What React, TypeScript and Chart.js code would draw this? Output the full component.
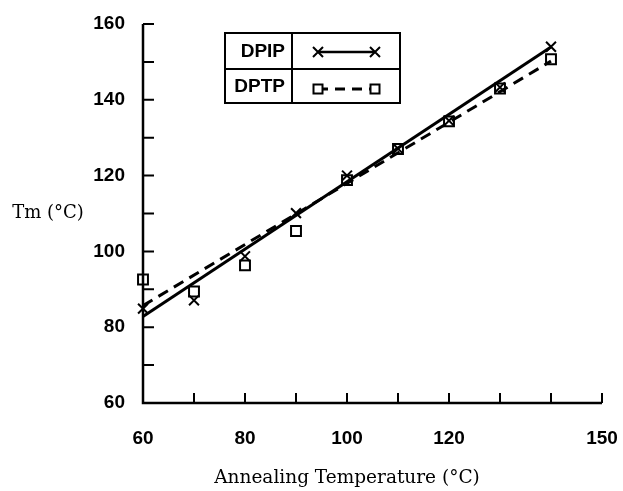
import React, { useEffect, useRef } from 'react';
import { Chart, registerables } from 'chart.js';

Chart.register(...registerables);

// ---- data ----
const temps = [60, 70, 80, 90, 100, 110, 120, 130, 140];
const dpip = [84.9, 87.1, 98.7, 110.1, 120, 127.1, 134.5, 143.3, 154];
const dptp = [92.6, 89.4, 96.3, 105.4, 118.8, 127, 134.3, 143, 150.7];
const fitX = [60, 140];
const dpipFit = [82.8, 153.9];
const dptpFit = [85.7, 150.2];

const seriesNames = ['DPIP', 'DPTP'];
const xTickLabels = [60, 80, 100, 120, 150];
const yTickLabels = [60, 80, 100, 120, 140, 160];
const xMinorTicks = [70, 80, 90, 100, 110, 120, 130, 140, 150];
const yMinorTicks = [70, 80, 90, 100, 110, 120, 130, 140, 150, 160];
const xTitle = 'Annealing Temperature (°C)';
const yTitle = 'Tm (°C)';

const TICK_FONT = 'bold 19px "Liberation Sans", Arial, sans-serif';

function drawCross(ctx: CanvasRenderingContext2D, cx: number, cy: number, r: number) {
  ctx.beginPath();
  ctx.moveTo(cx - r, cy - r);
  ctx.lineTo(cx + r, cy + r);
  ctx.moveTo(cx + r, cy - r);
  ctx.lineTo(cx - r, cy + r);
  ctx.stroke();
}

function drawSquare(ctx: CanvasRenderingContext2D, cx: number, cy: number, h: number) {
  ctx.fillStyle = '#fff';
  ctx.fillRect(cx - h, cy - h, 2 * h, 2 * h);
  ctx.strokeRect(cx - h, cy - h, 2 * h, 2 * h);
}

export default function App() {
  const ref = useRef<HTMLCanvasElement>(null);

  useEffect(() => {
    const canvas = ref.current;
    if (!canvas) return;

    const deco = {
      id: 'deco',
      afterDraw(chart: any) {
        const { ctx, chartArea: a, scales } = chart;
        const x = scales.x;
        const y = scales.y;
        ctx.save();
        ctx.strokeStyle = '#000';
        ctx.lineCap = 'butt';
        // axes
        ctx.lineWidth = 2.5;
        ctx.beginPath();
        ctx.moveTo(a.left, a.top);
        ctx.lineTo(a.left, a.bottom);
        ctx.lineTo(a.right, a.bottom);
        ctx.stroke();
        // inward ticks
        ctx.lineWidth = 2;
        ctx.beginPath();
        for (const v of xMinorTicks) {
          const px = x.getPixelForValue(v);
          ctx.moveTo(px, a.bottom);
          ctx.lineTo(px, a.bottom - 10);
        }
        for (const v of yMinorTicks) {
          const py = y.getPixelForValue(v);
          ctx.moveTo(a.left, py);
          ctx.lineTo(a.left + 11, py);
        }
        ctx.stroke();

        // titles
        ctx.fillStyle = '#000';
        ctx.textAlign = 'center';
        ctx.textBaseline = 'middle';
        ctx.font = '18.5px "DejaVu Serif", serif';
        ctx.fillText(xTitle, 347, 478);
        ctx.font = '18px "DejaVu Serif", serif';
        ctx.fillText(yTitle, 48, 213);

        // legend table
        const L = 225, R = 400, T = 33, B = 103, MID = 69, DIV = 292;
        ctx.lineWidth = 2;
        ctx.strokeRect(L, T, R - L, B - T);
        ctx.beginPath();
        ctx.moveTo(L, MID);
        ctx.lineTo(R, MID);
        ctx.moveTo(DIV, T);
        ctx.lineTo(DIV, B);
        ctx.stroke();
        ctx.font = TICK_FONT;
        ctx.textAlign = 'right';
        ctx.fillText(seriesNames[0], 285, 52);
        ctx.fillText(seriesNames[1], 285, 87);
        // samples
        const s0 = 318, s1 = 375;
        ctx.lineWidth = 2.5;
        ctx.beginPath();
        ctx.moveTo(s0, 52);
        ctx.lineTo(s1, 52);
        ctx.stroke();
        ctx.lineWidth = 2;
        drawCross(ctx, s0, 52, 5);
        drawCross(ctx, s1, 52, 5);
        ctx.lineWidth = 3;
        ctx.setLineDash([10, 7]);
        ctx.beginPath();
        ctx.moveTo(s0, 89);
        ctx.lineTo(s1, 89);
        ctx.stroke();
        ctx.setLineDash([]);
        ctx.lineWidth = 2;
        drawSquare(ctx, s0, 89, 4.5);
        drawSquare(ctx, s1, 89, 4.5);
        ctx.restore();
      },
    };

    const chart = new Chart(canvas, {
      type: 'scatter',
      data: {
        datasets: [
          {
            label: seriesNames[0] + ' fit',
            data: fitX.map((t, i) => ({ x: t, y: dpipFit[i] })),
            showLine: true,
            borderColor: '#000',
            borderWidth: 3,
            pointRadius: 0,
            order: 0,
          },
          {
            label: seriesNames[1] + ' fit',
            data: fitX.map((t, i) => ({ x: t, y: dptpFit[i] })),
            showLine: true,
            borderColor: '#000',
            borderWidth: 3,
            borderDash: [11, 7],
            pointRadius: 0,
            order: 1,
          },
          {
            label: seriesNames[0],
            data: temps.map((t, i) => ({ x: t, y: dpip[i] })),
            showLine: false,
            pointStyle: 'crossRot',
            pointRadius: 7,
            borderColor: '#000',
            borderWidth: 2,
            order: 2,
          },
          {
            label: seriesNames[1],
            data: temps.map((t, i) => ({ x: t, y: dptp[i] })),
            showLine: false,
            pointStyle: 'rect',
            pointRadius: 7,
            backgroundColor: '#fff',
            borderColor: '#000',
            borderWidth: 2,
            order: 3,
          },
        ],
      },
      options: {
        responsive: false,
        animation: false,
        devicePixelRatio: 1,
        layout: { padding: { left: 0, top: 24, right: 21, bottom: 0 } },
        plugins: { legend: { display: false }, tooltip: { enabled: false } },
        elements: { line: { tension: 0 } },
        datasets: { scatter: { clip: false } } as any,
        scales: {
          x: {
            type: 'linear',
            min: 60,
            max: 150,
            afterBuildTicks: (s: any) => {
              s.ticks = xTickLabels.map((v) => ({ value: v }));
            },
            afterFit: (s: any) => {
              s.height = 88;
              s.paddingLeft = 0;
              s.paddingRight = 0;
            },
            grid: { display: false, drawTicks: false },
            border: { display: false },
            ticks: {
              autoSkip: false,
              maxRotation: 0,
              padding: 24,
              color: '#000',
              font: { family: '"Liberation Sans", Arial, sans-serif', size: 19, weight: 'bold' },
            },
          },
          y: {
            type: 'linear',
            min: 60,
            max: 160,
            afterBuildTicks: (s: any) => {
              s.ticks = yTickLabels.map((v) => ({ value: v }));
            },
            afterFit: (s: any) => {
              s.width = 143;
              s.paddingTop = 0;
              s.paddingBottom = 0;
            },
            grid: { display: false, drawTicks: false },
            border: { display: false },
            ticks: {
              padding: 18,
              color: '#000',
              font: { family: '"Liberation Sans", Arial, sans-serif', size: 19, weight: 'bold' },
            },
          },
        },
      },
      plugins: [deco],
    });

    return () => chart.destroy();
  }, []);

  return (
    <canvas
      ref={ref}
      width={623}
      height={491}
      style={{ position: 'fixed', left: 0, top: 0, background: '#fff' }}
    />
  );
}
